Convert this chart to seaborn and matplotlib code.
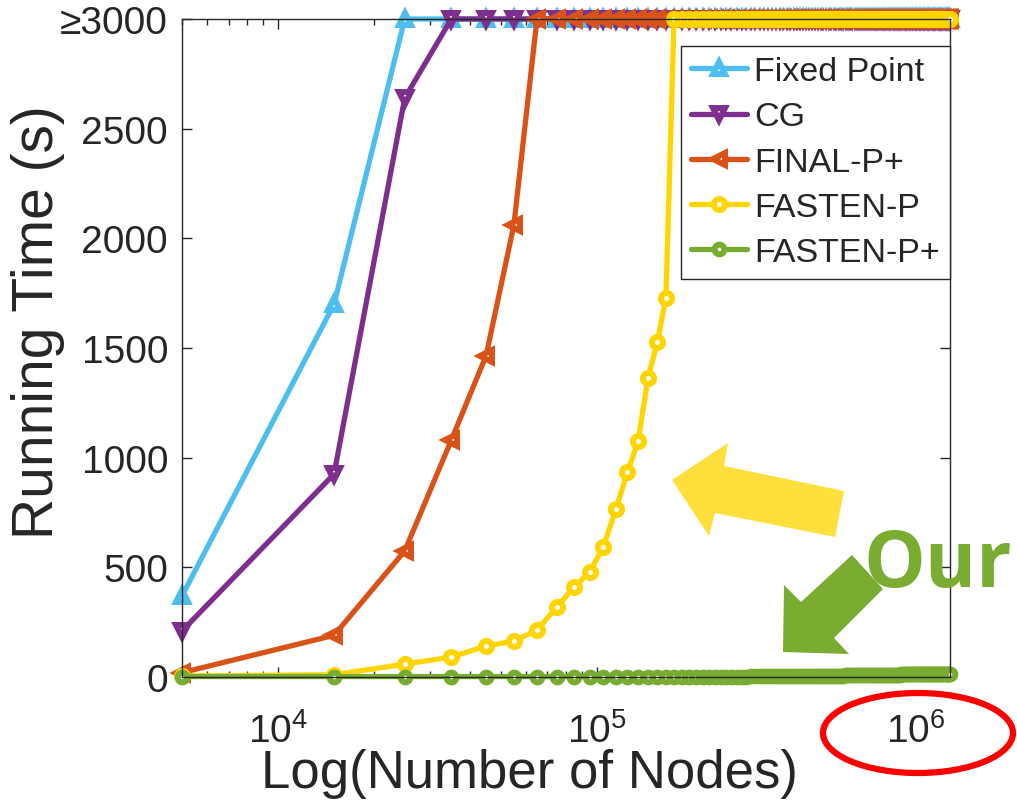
import numpy as np
import pandas as pd
import matplotlib
matplotlib.use('Agg')
import matplotlib.pyplot as plt
from matplotlib.patches import Polygon, Ellipse
import seaborn as sns

sns.set_style('ticks')
plt.rcParams['font.family'] = ['Liberation Sans', 'DejaVu Sans']

# data (running time in seconds, runs that hit the limit are shown as 3000)
CAP = 3000
nodes = np.arange(5000, 1285001, 10000)

fixed_point = [370, 1700]
cg = [210, 925, 2640]
final_p = [20, 190, 575, 1080, 1465, 2060]
fasten_p = [5, 10, 59, 91, 141, 164, 214, 319, 410, 478, 593, 766, 934, 1076, 1363, 1527, 1727]
fasten_pp = [2] * 30 + [4] * 30 + [8] * 30 + [12] * 39

methods = ['Fixed Point', 'CG', 'FINAL-P+', 'FASTEN-P', 'FASTEN-P+']
colors = ['#4DBEEE', '#7E2F8E', '#D95319', '#FFD500', '#77AC30']
markers = ['^', 'v', '<', 'o', 'o']
y_ticks = [0, 500, 1000, 1500, 2000, 2500, 3000]
y_labels = ['0', '500', '1000', '1500', '2000', '2500', '≥3000']

rows = []
for name, vals in zip(methods, [fixed_point, cg, final_p, fasten_p, fasten_pp]):
    vals = list(vals) + [CAP] * (len(nodes) - len(vals))
    for n, v in zip(nodes, vals):
        rows.append({'nodes': n, 'time': v, 'method': name})
df = pd.DataFrame(rows)

W, H = 1017, 804
fig = plt.figure(figsize=(W / 100, H / 100), dpi=100)
ax = fig.add_axes([182 / W, 126 / H, 768 / W, 658 / H])

handles = []
for name, c, mk in zip(methods, colors, markers):
    ms = 7 if name == 'FASTEN-P+' else 8
    sns.lineplot(data=df[df.method == name], x='nodes', y='time', ax=ax,
                 color=c, marker=mk, markersize=ms, mec=c, mfc='white', mew=4.3,
                 lw=3.8, errorbar=None, clip_on=False, label=name, legend=False)
    handles.append(ax.lines[-1])

ax.set_xscale('log')
ax.set_xlim(5000, 1285000)
ax.set_ylim(0, 3000)
ax.set_yticks(y_ticks)
ax.set_yticklabels(y_labels)

ax.tick_params(which='both', direction='in', top=True, right=True, width=1,
               colors='#262626', labelsize=28, pad=10)
ax.tick_params(axis='x', which='both', pad=25)
ax.tick_params(which='major', length=7)
ax.tick_params(which='minor', length=4)
for s in ax.spines.values():
    s.set_linewidth(1)
    s.set_color('#262626')

ax.set_xlabel('Log(Number of Nodes)', fontsize=38, color='#262626')
ax.set_ylabel('Running Time (s)', fontsize=41, color='#262626')
ax.xaxis.set_label_coords(0.453, -0.108)
ax.yaxis.set_label_coords(-0.152, 0.541)

leg = ax.legend(handles=handles, labels=methods, loc='upper right',
                bbox_to_anchor=(1.0, 0.959), fontsize=24.5, frameon=True,
                fancybox=False, edgecolor='#262626', framealpha=1,
                borderpad=0.3, labelspacing=0.42, handlelength=1.65,
                handletextpad=0.2, borderaxespad=0)
leg.get_frame().set_linewidth(1)


# annotations (figure pixel coords)
def fp(px, py):
    return (px / W, 1 - py / H)


yellow_arrow = [(672, 481), (728, 444), (724, 467), (844, 492), (835, 538),
                (715, 514), (709, 537)]
fig.add_artist(Polygon([fp(*p) for p in yellow_arrow], closed=True,
                       transform=fig.transFigure, color='#FFDF3B', lw=0))
green_arrow = [(783, 653), (784, 586), (801, 603), (852, 556), (883, 590),
               (834, 639), (849, 655)]
fig.add_artist(Polygon([fp(*p) for p in green_arrow], closed=True,
                       transform=fig.transFigure, color='#7AAC32', lw=0))
fig.text(*fp(864, 587), 'Our', color='#7AAC32', fontsize=56, fontweight='bold',
         family='Open Sans', ha='left', va='baseline')
fig.add_artist(Ellipse(fp(918, 734), 190 / W, 80 / H, transform=fig.transFigure,
                       fill=False, edgecolor='#FF0000', lw=4.5))

fig.savefig('out.png', dpi=100)
